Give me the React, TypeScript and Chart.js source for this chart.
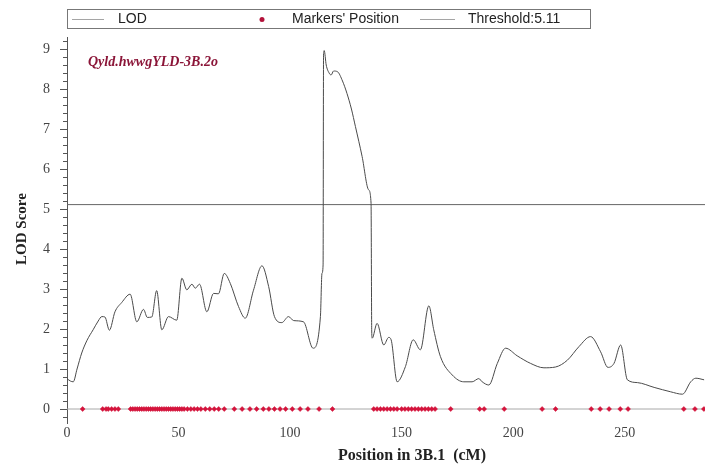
import React, { useEffect, useRef } from "react";
import { Chart, registerables } from "chart.js";

Chart.register(...registerables);

// ---- Data ----
const lodPositions = [
  0, 1.5, 2.8, 4.5, 6.6, 9, 11.7, 14, 15.6, 17, 19, 21.5, 24.5, 28.3, 31.3, 34.3, 36, 38, 40.2, 42.5,
  45.5, 49.2, 51.5, 53.7, 56, 57.5, 59.4, 62.7, 65.7, 67.9, 70.5, 73.2, 76.9, 79.9, 83.6, 87.4, 90.4,
  93, 96.3, 99.3, 101.6, 106, 110.3, 113.6, 114.3, 114.8, 115.0, 115.3, 116.2, 117.5, 118.4, 119.5,
  121.3, 123.5, 125.5, 127.5, 129.3, 132.3, 135.2, 136.3, 136.6, 136.8, 139, 142, 144.2, 145.3, 148,
  151.7, 155.2, 158.4, 162.2, 164.4, 167.4, 172.7, 177.9, 181.6, 184.6, 186.1, 189.1, 192.9, 196.6,
  201.8, 207.8, 213.8, 219, 224.3, 229.5, 234.7, 239.2, 242.5, 245.2, 248.2, 251.2, 255.7, 263.2,
  270.6, 275.9, 279.6, 281.9, 285.6,
];
const lodScores = [
  0.76, 0.7, 0.68, 1.0, 1.4, 1.72, 1.98, 2.2, 2.31, 2.3, 1.97, 2.43, 2.66, 2.87, 2.18, 2.49, 2.29, 2.3,
  2.96, 1.98, 2.31, 2.22, 3.27, 2.98, 3.12, 3.02, 3.12, 2.43, 2.89, 2.88, 3.39, 3.14, 2.56, 2.27, 2.97,
  3.58, 3.06, 2.31, 2.16, 2.31, 2.21, 2.18, 1.52, 2.31, 3.39, 3.6, 8.85, 8.96, 8.6, 8.4, 8.35, 8.45,
  8.43, 8.2, 7.89, 7.5, 7.06, 6.31, 5.48, 5.15, 1.95, 1.77, 2.14, 1.6, 1.79, 1.73, 0.68, 1.06, 1.73,
  1.48, 2.58, 1.98, 1.31, 0.85, 0.68, 0.68, 0.76, 0.68, 0.6, 1.14, 1.52, 1.33, 1.14, 1.03, 1.05, 1.22,
  1.56, 1.81, 1.43, 1.04, 1.14, 1.6, 0.73, 0.66, 0.54, 0.43, 0.37, 0.68, 0.77, 0.73,
];
const markerPositions = [
  7, 16, 17.5, 18.5, 20, 21.5, 23, 28.5, 29.5, 30.5, 31.5, 32.5, 33.5, 34.5, 35.5, 36.5, 37.5, 38.5,
  39.5, 40.5, 41.5, 42.5, 43.5, 44.5, 45.5, 46.5, 47.5, 48.5, 49.5, 50.5, 51.5, 52.5, 54, 55.5, 57,
  58.5, 60, 62, 64, 66, 68, 70.5, 75, 78.5, 82, 85, 88, 90.5, 93, 95.5, 98, 101, 104.5, 108, 113, 119,
  137.5, 139, 140.5, 142, 143.5, 145, 146.5, 148, 150, 151.5, 153, 154.5, 156, 157.5, 159, 160.5, 162,
  163.5, 165, 172, 185, 187, 196, 213, 219, 235, 239, 243, 248, 251.5, 276.5, 281.5, 285.5,
];
const thresholdValue = 5.11;
const xRange = [0, 286];
const yRange = [-0.35, 9.3];
const xStep = 50;
const yStep = 1;
const legendLabels = ["LOD", "Markers' Position", "Threshold:5.11"];
const qtlLabel = "Qyld.hwwgYLD-3B.2o";
const xTitle = "Position in 3B.1  (cM)";
const yTitle = "LOD Score";

const SERIF = '"Liberation Serif", "Times New Roman", serif';
const SANS = '"Liberation Sans", Arial, sans-serif';

const decorPlugin = {
  id: "decor",
  afterDraw(chart: any) {
    const ctx = chart.ctx;
    const y = chart.scales.y;
    const area = chart.chartArea;
    ctx.save();
    // minor y ticks
    ctx.strokeStyle = "#555";
    ctx.lineWidth = 1;
    for (let i = -1; i <= 46; i++) {
      const v = i * 0.2;
      if (Math.abs(v - Math.round(v)) < 1e-6) continue;
      if (v < yRange[0] || v > yRange[1]) continue;
      const py = Math.round(y.getPixelForValue(v)) + 0.5;
      ctx.beginPath();
      ctx.moveTo(area.left - 4, py);
      ctx.lineTo(area.left, py);
      ctx.stroke();
    }
    // legend box
    ctx.strokeStyle = "#777";
    ctx.strokeRect(67.5, 9.5, 523, 19);
    ctx.strokeStyle = "#a5a5a5";
    ctx.beginPath();
    ctx.moveTo(72, 19.5);
    ctx.lineTo(104, 19.5);
    ctx.moveTo(420, 19.5);
    ctx.lineTo(455, 19.5);
    ctx.stroke();
    ctx.fillStyle = "#b3123a";
    ctx.beginPath();
    ctx.arc(262, 19.5, 2.5, 0, Math.PI * 2);
    ctx.fill();
    ctx.fillStyle = "#222";
    ctx.font = `14px ${SANS}`;
    ctx.textBaseline = "middle";
    ctx.textAlign = "left";
    ctx.fillText(legendLabels[0], 118, 19);
    ctx.fillText(legendLabels[1], 292, 19);
    ctx.fillText(legendLabels[2], 468, 19);
    // QTL annotation
    ctx.fillStyle = "#8b1538";
    ctx.font = `italic bold 14px ${SERIF}`;
    ctx.textBaseline = "alphabetic";
    ctx.fillText(qtlLabel, 88, 66);
    // axis titles
    ctx.fillStyle = "#222";
    ctx.font = `bold 16px ${SERIF}`;
    ctx.textAlign = "center";
    ctx.textBaseline = "middle";
    ctx.fillText(xTitle, 412, 456);
    ctx.save();
    ctx.translate(22, 229);
    ctx.rotate(-Math.PI / 2);
    ctx.font = `bold 15px ${SERIF}`;
    ctx.fillText(yTitle, 0, 0);
    ctx.restore();
    ctx.restore();
  },
};

export default function App() {
  const canvasRef = useRef<HTMLCanvasElement | null>(null);

  useEffect(() => {
    document.body.style.margin = "0";
    const canvas = canvasRef.current;
    if (!canvas) return;
    const chart = new Chart(canvas, {
      type: "line",
      data: {
        datasets: [
          {
            label: legendLabels[0],
            data: lodPositions.map((x, i) => ({ x, y: lodScores[i] })),
            borderColor: "#4a4a4a",
            borderWidth: 1,
            pointRadius: 0,
            cubicInterpolationMode: "monotone",
            order: 2,
          },
          {
            label: "baseline",
            data: [
              { x: xRange[0], y: 0 },
              { x: xRange[1], y: 0 },
            ],
            borderColor: "#a8a8a8",
            borderWidth: 1,
            pointRadius: 0,
            order: 3,
          },
          {
            label: legendLabels[1],
            data: markerPositions.map((x) => ({ x, y: 0 })),
            showLine: false,
            pointStyle: "rectRot",
            pointRadius: 2.5,
            pointBackgroundColor: "#d4143c",
            pointBorderColor: "#d4143c",
            pointBorderWidth: 0.5,
            order: 1,
          },
          {
            label: legendLabels[2],
            data: [
              { x: xRange[0], y: thresholdValue },
              { x: xRange[1], y: thresholdValue },
            ],
            borderColor: "#666",
            borderWidth: 1,
            pointRadius: 0,
            order: 2,
          },
        ],
      },
      options: {
        responsive: false,
        animation: false,
        devicePixelRatio: 1,
        layout: { autoPadding: false, padding: { top: 37, left: 0, right: 0, bottom: 0 } },
        plugins: { legend: { display: false }, tooltip: { enabled: false } },
        scales: {
          x: {
            type: "linear",
            min: xRange[0],
            max: xRange[1],
            grid: { display: false, drawTicks: false },
            border: { display: false },
            ticks: {
              stepSize: xStep,
              includeBounds: false,
              autoSkip: false,
              maxRotation: 0,
              padding: 2,
              color: "#444",
              font: { family: SERIF, size: 14 },
            },
            afterFit(s: any) {
              s.height = 44;
            },
          },
          y: {
            type: "linear",
            min: yRange[0],
            max: yRange[1],
            grid: { drawOnChartArea: false, drawTicks: true, tickLength: 7, color: "#555" },
            border: { display: true, color: "#555" },
            ticks: {
              stepSize: yStep,
              includeBounds: false,
              padding: 10,
              color: "#444",
              font: { family: SERIF, size: 14 },
            },
            afterFit(s: any) {
              s.width = 67;
            },
          },
        },
      },
      plugins: [decorPlugin],
    });
    return () => chart.destroy();
  }, []);

  return (
    <div style={{ width: 705, height: 467, background: "#fff" }}>
      <canvas ref={canvasRef} width={705} height={467} style={{ display: "block" }} />
    </div>
  );
}
